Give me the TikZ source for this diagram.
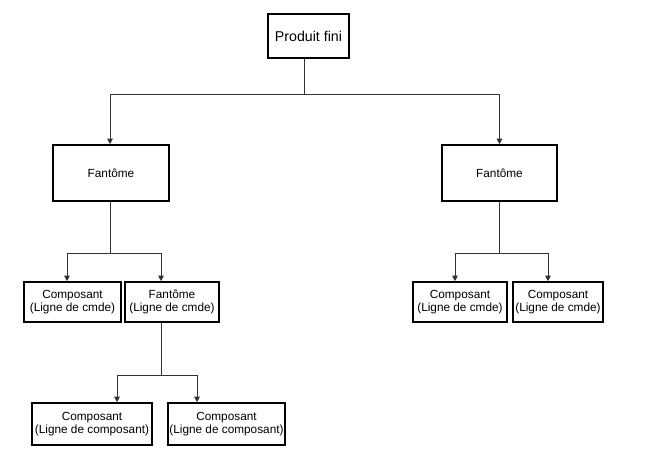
\documentclass[tikz,border=0pt]{standalone}
\usepackage{fontspec}
\setmainfont{Liberation Sans}
\usepackage{tikz}
\usetikzlibrary{arrows.meta}

\tikzset{
  boite/.style={draw=black,line width=1.6pt,fill=white,inner sep=0pt,align=center,font=\fontsize{11.8}{12.5}\selectfont},
  lien/.style={draw={rgb,255:red,50;green,50;blue,50},line width=0.9pt},
  fleche/.style={lien,-{Triangle[width=5.5pt,length=5.5pt]}}
}

\begin{document}
\begin{tikzpicture}[x=1pt,y=-1pt]
\path[use as bounding box] (0,0) rectangle (648,466);
\path[fill=white,draw=none] (0,0) rectangle (648,466);
% boites
\node[boite,minimum width=81pt,minimum height=44pt,font=\fontsize{14.2}{15}\selectfont] (pf) at (308.5,36) {Produit fini};
\node[boite,minimum width=116pt,minimum height=56pt] (f1) at (111,173) {Fantôme};
\node[boite,minimum width=115pt,minimum height=56pt] (f2) at (499.5,173) {Fantôme};
\node[boite,minimum width=97pt,minimum height=40pt] (c1) at (72.5,302) {Composant\\(Ligne de cmde)};
\node[boite,minimum width=94pt,minimum height=40pt] (f3) at (172,302) {Fantôme\\(Ligne de cmde)};
\node[boite,minimum width=94pt,minimum height=40pt] (c2) at (460,302) {Composant\\(Ligne de cmde)};
\node[boite,minimum width=90pt,minimum height=40pt] (c3) at (558,302) {Composant\\(Ligne de cmde)};
\node[boite,minimum width=120pt,minimum height=42pt] (c4) at (92,424) {Composant\\(Ligne de composant)};
\node[boite,minimum width=117pt,minimum height=42pt] (c5) at (226.5,424) {Composant\\(Ligne de composant)};
% liens
\coordinate (j0) at (304,94);
\draw[lien] (j0 |- pf.south) -- (j0);
\draw[fleche] (j0) -| ([xshift=-1pt]f1.north);
\draw[fleche] (j0) -| (f2.north);
\coordinate (j1) at (110,253);
\draw[lien] (j1 |- f1.south) -- (j1);
\draw[fleche] (j1) -| ([xshift=-5.5pt]c1.north);
\draw[fleche] (j1) -| ([xshift=-11pt]f3.north);
\coordinate (j2) at (499,253);
\draw[lien] (j2 |- f2.south) -- (j2);
\draw[fleche] (j2) -| ([xshift=-5pt]c2.north);
\draw[fleche] (j2) -| ([xshift=-10pt]c3.north);
\coordinate (j3) at (161,375);
\draw[lien] (j3 |- f3.south) -- (j3);
\draw[fleche] (j3) -| ([xshift=25pt]c4.north);
\draw[fleche] (j3) -| ([xshift=-29.5pt]c5.north);
\end{tikzpicture}
\end{document}
